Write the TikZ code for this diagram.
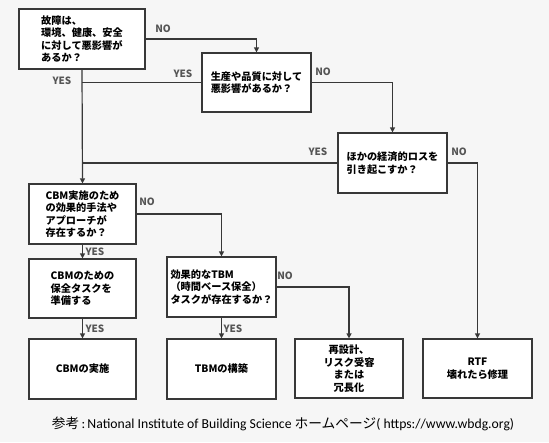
\documentclass[tikz,border=0pt]{standalone}
\usepackage{fontspec}
\setmainfont{Noto Sans CJK JP}
\newfontfamily\latinf{Carlito}
\usetikzlibrary{arrows.meta}
\definecolor{bg}{HTML}{F6F6F6}
\definecolor{ln}{HTML}{383838}
\definecolor{lab}{HTML}{555555}
\begin{document}
\begin{tikzpicture}[x=1pt,y=-1pt,
  box/.style={draw=ln,line width=1.2pt,fill=white,rectangle,inner sep=0pt,
     font=\fontsize{10.2}{12.5}\selectfont\bfseries,align=left},
  lbl/.style={font=\fontsize{10}{11}\selectfont\bfseries,text=lab,inner sep=0pt},
  con/.style={draw=ln,line width=1.2pt},
  arr/.style={con,-{Triangle[length=5pt,width=5pt]}}]
\fill[bg] (0,0) rectangle (549,442);
\useasboundingbox (0,0) rectangle (549,442);
\node[box,minimum width=126,minimum height=60] (b1) at (82,39) {故障は、\\環境、健康、安全\\に対して悪影響が\\あるか？};
\node[box,minimum width=109,minimum height=59] (b2) at (256.5,82.5) {生産や品質に対して\\悪影響があるか？};
\node[box,minimum width=109,minimum height=60] (b3) at (392.5,163) {ほかの経済的ロスを\\引き起こすか？};
\node[box,minimum width=107,minimum height=60] (b4) at (82.5,214) {CBM実施のため\\の効果的手法や\\アプローチが\\存在するか？};
\node[box,minimum width=107,minimum height=59] (b5) at (82.5,288.5) {CBMのための\\保全タスクを\\準備する};
\node[box,minimum width=109,minimum height=60] (b6) at (221.5,287) {効果的なTBM\\（時間ベース保全）\\タスクが存在するか？};
\node[box,minimum width=107,minimum height=60] (b7) at (82.5,369) {CBMの実施};
\node[box,minimum width=109,minimum height=60] (b8) at (221.5,369) {TBMの構築};
\node[box,minimum width=108,minimum height=59,align=center] (b9) at (349,368.5) {再設計、\\リスク受容\\または\\冗長化};
\node[box,minimum width=109,minimum height=59,align=center] (b10) at (477.5,368.5) {RTF\\壊れたら修理};
% connectors
\draw[arr] (b1.east) -| (b2.north);
\draw[con] (b2.west) -- (b1.south |- b2.west);
\draw[arr] (b1.south) -- (b4.north);
\draw[arr] (b2.east) -| (b3.north);
\draw[con] (b3.west) -- (b1.south |- b3.west);
\draw[arr] (b3.east) -| (b10.north);
\draw[arr] (b4.east) -| (b6.north);
\draw[arr] (b4.south) -- (b5.north);
\draw[arr] (b5.south) -- (b7.north);
\draw[arr] (b6.east) -| (b9.north);
\draw[arr] (b6.south) -- (b8.north);
% labels
\node[lbl] (n1) at (163,29) {NO};
\node[lbl] (y1) at (62,81) {YES};
\node[lbl] (y2) at (183,74) {YES};
\node[lbl] (n2) at (323,72) {NO};
\node[lbl] (y3) at (318,152) {YES};
\node[lbl] (n3) at (459,152) {NO};
\node[lbl] (n4) at (147,202) {NO};
\node[lbl] (y4) at (95,252) {YES};
\node[lbl] (y5) at (95,329) {YES};
\node[lbl] (n5) at (285,276) {NO};
\node[lbl] (y6) at (233,329) {YES};
% caption
\node[inner sep=0pt,font=\fontsize{13.7}{15}\selectfont] (cap) at (283,424) {参考{\latinf\,:\,National Institute of Building Science }ホームページ{\latinf(\ https://www.wbdg.org)}};
\end{tikzpicture}
\end{document}
